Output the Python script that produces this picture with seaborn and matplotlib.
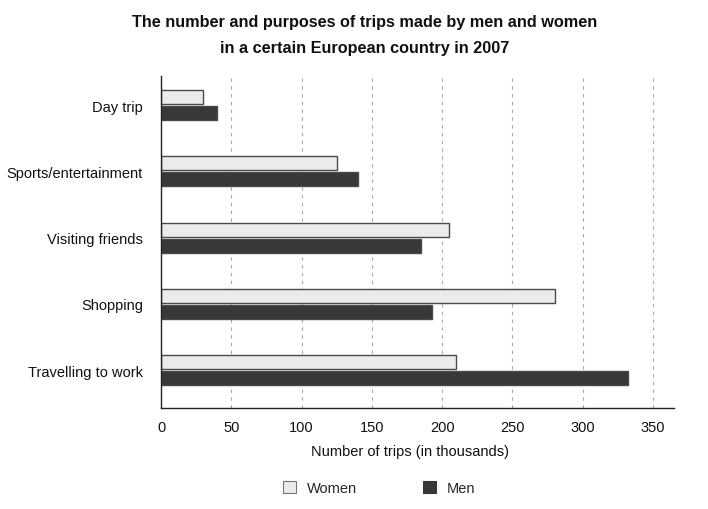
import matplotlib
matplotlib.use("Agg")
import matplotlib.pyplot as plt
import seaborn as sns
import pandas as pd
from matplotlib.patches import Patch

categories = ["Day trip", "Sports/entertainment", "Visiting friends", "Shopping", "Travelling to work"]
women = [30, 125, 205, 280, 210]
men = [40, 140, 185, 193, 332]
series = ["Women", "Men"]
xticks = [0, 50, 100, 150, 200, 250, 300, 350]

df = pd.DataFrame({
    "Purpose": categories * 2,
    "Trips": women + men,
    "Sex": ["Women"] * len(categories) + ["Men"] * len(categories),
})

sns.set_style("white")
plt.rcParams["font.family"] = ["Liberation Sans", "DejaVu Sans"]

fig = plt.figure(figsize=(7.08, 5.10), dpi=100)
ax = fig.add_axes([161 / 708, 1 - 409 / 510, (674 - 161) / 708, (409 - 77) / 510])

palette = {"Women": "#ebebeb", "Men": "#383838"}
sns.barplot(data=df, y="Purpose", x="Trips", hue="Sex", order=categories,
            hue_order=series, palette=palette, orient="h", width=0.48,
            gap=0.12, edgecolor="#4a4a4a", linewidth=1.0, saturation=1,
            legend=False, ax=ax)

ax.set_xlim(0, 365)
ax.set_ylim(4.57, -0.44)
ax.set_xticks(xticks)
ax.set_xticklabels([str(t) for t in xticks], fontsize=10.5, color="#111111")
ax.tick_params(axis="x", direction="out", length=5, width=1, color="#222222", pad=4)
ax.tick_params(axis="y", length=0, pad=13, labelsize=10.5, labelcolor="#111111")

for t in xticks[1:]:
    ax.axvline(t, color="#a8a8a8", linestyle=(0, (3, 4)), linewidth=0.8, zorder=0)

for side in ["top", "right"]:
    ax.spines[side].set_visible(False)
for side in ["left", "bottom"]:
    ax.spines[side].set_color("#222222")
    ax.spines[side].set_linewidth(1.0)

ax.set_ylabel("")
ax.set_xlabel("Number of trips (in thousands)", fontsize=10.5, color="#111111", labelpad=8)
ax.xaxis.set_label_coords((410 - 161) / 513, -(452 - 409) / 332)
ax.xaxis.label.set_va("center")

fig.text(365 / 708, 1 - 22 / 510, "The number and purposes of trips made by men and women",
         ha="center", va="center", fontsize=11.7, fontweight="bold", color="#111111")
fig.text(365 / 708, 1 - 48 / 510, "in a certain European country in 2007",
         ha="center", va="center", fontsize=11.7, fontweight="bold", color="#111111")

handles = [Patch(facecolor=palette[s], edgecolor="#777777" if s == "Women" else "#383838",
                 linewidth=0.8, label=s) for s in series]
fig.legend(handles=handles, loc="center", bbox_to_anchor=(379 / 708, 1 - 489 / 510), ncol=2,
           frameon=False, fontsize=10.5, handlelength=0.9, handleheight=0.9,
           columnspacing=4.5, handletextpad=0.75)

fig.savefig("out.png", dpi=100, facecolor="white")
